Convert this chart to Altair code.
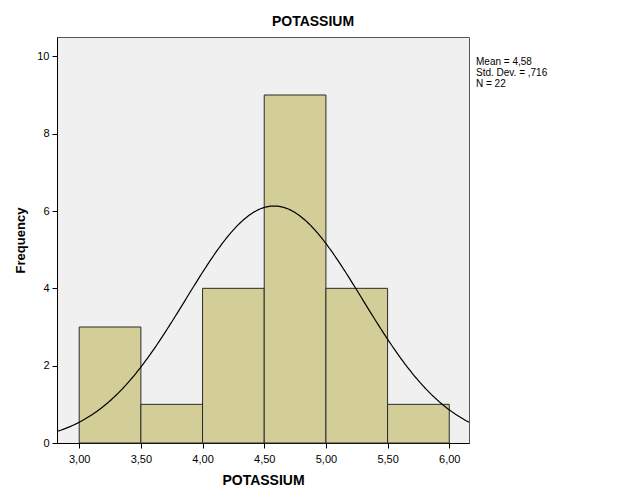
import altair as alt
import pandas as pd

bin_start = [3.0, 3.5, 4.0, 4.5, 5.0, 5.5]
bin_end = [3.5, 4.0, 4.5, 5.0, 5.5, 6.0]
counts = [3, 1, 4, 9, 4, 1]
x_ticks = [3.0, 3.5, 4.0, 4.5, 5.0, 5.5, 6.0]
y_ticks = [0, 2, 4, 6, 8, 10]
mean_v = 4.58
sd_v = 0.716
n_v = 22
bin_w = 0.5
stat_lines = ["Mean = 4,58", "Std. Dev. = ,716", "N = 22"]

bars_df = pd.DataFrame({"start": bin_start, "end": bin_end, "count": counts})
stats_df = pd.DataFrame({"line": stat_lines, "idx": list(range(len(stat_lines)))})

X_DOM = [2.82, 6.16]
Y_DOM = [0, 10.5]
W, H = 412, 406

xscale = alt.Scale(domain=X_DOM, nice=False, zero=False)
yscale = alt.Scale(domain=Y_DOM, nice=False)

xaxis = alt.Axis(values=x_ticks, labelExpr="replace(format(datum.value, '.2f'), '.', ',')",
                 title="POTASSIUM", grid=False, tickSize=5, labelFontSize=11,
                 labelPadding=5, titleFontSize=14, titleFontWeight="bold",
                 titlePadding=9, domainColor="black", tickColor="black",
                 labelColor="black", titleColor="black", labelFont="Liberation Sans",
                 titleFont="Liberation Sans")
yaxis = alt.Axis(values=y_ticks, title="Frequency", grid=False, tickSize=5,
                 labelFontSize=11, labelPadding=3, titleFontSize=13,
                 titleFontWeight="bold", titlePadding=9, domainColor="black",
                 tickColor="black", labelColor="black", titleColor="black",
                 labelFont="Liberation Sans", titleFont="Liberation Sans")

bars = alt.Chart(bars_df).mark_rect(fill="#D3CE97", stroke="#2b2b2b", strokeWidth=1).encode(
    x=alt.X("start:Q", scale=xscale, axis=xaxis),
    x2="end:Q",
    y=alt.Y("count:Q", scale=yscale, axis=yaxis),
    y2=alt.datum(0),
)

curve = alt.Chart(alt.sequence(X_DOM[0], X_DOM[1] + 0.005, 0.01, as_="xv")).transform_calculate(
    yv=f"{n_v} * {bin_w} / ({sd_v} * sqrt(2 * PI)) * exp(-0.5 * pow((datum.xv - {mean_v}) / {sd_v}, 2))"
).mark_line(color="black", strokeWidth=1.2, clip=True).encode(
    x=alt.X("xv:Q", scale=xscale, axis=xaxis),
    y=alt.Y("yv:Q", scale=yscale, axis=None),
)

stats = alt.Chart(stats_df).mark_text(align="left", baseline="middle", fontSize=10,
                                      font="Liberation Sans", color="black").encode(
    x=alt.value(W + 7),
    y=alt.Y("idx:Q", axis=None, scale=alt.Scale(domain=[0, 2], range=[25, 47])),
    text="line:N",
)

chart = alt.layer(bars, curve, stats).resolve_scale(y="independent").properties(
    width=W, height=H,
    title=alt.TitleParams("POTASSIUM", fontSize=14, fontWeight="bold", font="Liberation Sans",
                          color="black", dx=50, offset=8, anchor="middle"),
    autosize=alt.AutoSizeParams(type="none"),
    padding={"left": 49, "top": 29, "right": 140, "bottom": 45},
).configure_view(fill="#F0F0F0", stroke="#555555", strokeWidth=1)

chart.save("out.html", embed_options={"renderer": "svg", "actions": False})
